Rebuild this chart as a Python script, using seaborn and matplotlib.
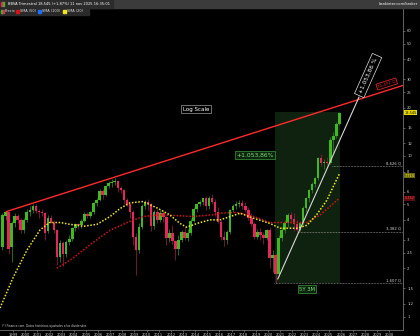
import matplotlib
matplotlib.use("Agg")
import numpy as np
import pandas as pd
import matplotlib.pyplot as plt
import seaborn as sns
from matplotlib.patches import Rectangle
from matplotlib.ticker import NullLocator

# ---------------- data ----------------
quarters = pd.period_range("1998Q1", "2025Q4", freq="Q")

opens = [2.72, 4.20, 4.45, 2.72, 3.80, 4.20, 4.00, 3.45, 4.00, 4.45, 4.60, 4.90,
         4.55, 4.45, 4.40, 3.40, 4.10, 3.85, 3.45, 2.36, 2.86, 2.45, 2.90, 3.05,
         3.55, 3.75, 3.70, 3.95, 4.35, 4.20, 4.45, 5.10, 5.35, 6.05, 5.75, 6.50,
         6.80, 6.90, 6.95, 6.30, 6.10, 5.30, 5.00, 4.50, 3.15, 2.60, 3.60, 4.85,
         5.20, 5.00, 3.65, 4.45, 4.00, 4.40, 4.15, 3.10, 3.30, 2.95, 2.65, 3.00,
         3.35, 3.10, 3.30, 3.95, 4.65, 5.00, 5.20, 5.45, 4.90, 5.50, 5.20, 4.45,
         3.90, 3.15, 3.00, 3.35, 4.60, 4.85, 5.00, 5.10, 4.85, 4.60, 4.10, 3.75,
         3.15, 3.35, 3.20, 3.10, 3.45, 2.30, 2.40, 1.85, 3.10, 3.45, 3.80, 4.30,
         4.05, 3.75, 3.45, 3.80, 4.72, 5.45, 6.10, 6.70, 7.30, 9.70, 9.00, 9.20,
         9.10, 12.60, 13.30, 15.90]
highs = [4.40, 4.50, 4.50, 3.95, 4.40, 4.35, 4.10, 4.10, 4.70, 4.85, 5.00, 5.00,
         4.70, 4.70, 4.50, 4.30, 4.30, 4.00, 3.50, 3.00, 2.95, 3.00, 3.20, 3.60,
         3.85, 3.85, 4.05, 4.45, 4.50, 4.55, 5.20, 5.45, 6.20, 6.20, 6.60, 6.95,
         7.15, 7.25, 7.10, 6.50, 6.20, 5.50, 5.10, 4.60, 3.30, 3.80, 5.00, 5.35,
         5.40, 5.10, 4.60, 4.70, 4.60, 4.60, 4.20, 3.50, 3.70, 3.00, 3.20, 3.45,
         3.60, 3.50, 4.10, 4.80, 5.10, 5.35, 5.50, 5.60, 5.60, 5.80, 5.40, 4.80,
         4.00, 3.40, 3.45, 4.70, 5.00, 5.25, 5.30, 5.30, 5.20, 4.80, 4.40, 3.90,
         3.50, 3.55, 3.35, 3.50, 3.60, 2.60, 2.50, 3.20, 3.60, 4.00, 4.40, 4.45,
         4.40, 4.00, 3.90, 4.85, 5.55, 6.20, 6.90, 7.40, 9.90, 10.30, 9.60, 9.90,
         13.20, 14.00, 16.30, 18.80]
lows = [2.60, 4.00, 2.45, 2.20, 3.60, 3.85, 3.30, 3.30, 3.90, 4.20, 4.40, 4.40,
        4.10, 4.20, 3.00, 3.30, 3.80, 3.30, 2.10, 2.20, 2.05, 2.35, 2.80, 2.95,
        3.40, 3.50, 3.55, 3.90, 4.10, 4.10, 4.35, 4.90, 5.25, 5.40, 5.60, 6.30,
        6.40, 6.60, 6.00, 5.90, 5.00, 4.90, 4.10, 2.80, 1.82, 2.50, 3.50, 4.70,
        4.60, 3.40, 3.50, 3.80, 3.90, 3.90, 2.80, 2.90, 2.85, 2.25, 2.40, 2.90,
        3.00, 2.95, 3.20, 3.90, 4.50, 4.85, 4.95, 4.60, 4.70, 5.00, 4.20, 3.80,
        3.00, 2.75, 2.85, 3.25, 4.50, 4.70, 4.80, 4.70, 4.50, 4.00, 3.65, 3.05,
        3.05, 3.00, 2.85, 3.00, 2.00, 1.90, 1.607, 1.80, 2.95, 3.30, 3.60, 3.80,
        3.40, 3.382, 3.40, 3.70, 4.50, 5.20, 5.90, 6.40, 7.10, 8.70, 8.30, 8.80,
        8.90, 10.50, 13.00, 15.60]
closes = [4.29, 4.45, 2.65, 3.80, 4.20, 4.00, 3.45, 4.00, 4.45, 4.60, 4.90, 4.55,
          4.45, 4.40, 3.30, 4.10, 3.85, 3.45, 2.36, 2.86, 2.45, 2.90, 3.05, 3.55,
          3.75, 3.70, 3.95, 4.35, 4.20, 4.45, 5.10, 5.35, 6.05, 5.75, 6.50, 6.80,
          6.90, 6.95, 6.30, 6.10, 5.30, 5.00, 4.50, 3.15, 2.60, 3.60, 4.85, 5.20,
          5.00, 3.65, 4.45, 4.00, 4.40, 4.15, 3.10, 3.30, 2.95, 2.65, 3.00, 3.35,
          3.10, 3.30, 3.95, 4.65, 5.00, 5.20, 5.45, 4.90, 5.50, 5.20, 4.45, 3.90,
          3.15, 3.00, 3.35, 4.60, 4.85, 5.00, 5.10, 4.85, 4.60, 4.10, 3.75, 3.15,
          3.35, 3.20, 3.10, 3.45, 2.30, 2.40, 1.85, 3.10, 3.45, 3.80, 4.30, 4.05,
          3.75, 3.45, 3.80, 4.72, 5.45, 6.10, 6.70, 7.30, 9.70, 9.00, 9.20, 9.10,
          12.60, 13.30, 15.90, 18.545]

# moving averages (decimal year, value)
sma20_time = [1997.92, 1999.0, 2000.15, 2001.2, 2002.0, 2002.9, 2003.7, 2004.8,
              2005.9, 2007.0, 2007.8, 2008.6, 2009.7, 2010.85, 2011.9, 2012.75,
              2013.3, 2014.15, 2015.2, 2016.05, 2017.7, 2018.8, 2020.15, 2021.0,
              2022.4, 2023.2, 2024.0, 2024.85, 2025.35, 2025.875]
sma20_value = [1.13, 1.75, 2.6, 3.45, 3.85, 3.85, 3.75, 3.65, 3.75, 4.2, 4.7,
               5.1, 5.2, 4.75, 4.3, 3.8, 3.6, 3.8, 4.0, 4.0, 4.4, 4.1, 3.8, 3.55,
               3.55, 3.7, 4.3, 5.3, 6.4, 7.72]
sma50_time = [2002.6, 2003.9, 2005.6, 2007.0, 2008.4, 2009.7, 2011.1, 2012.5,
              2013.8, 2015.5, 2016.05, 2017.45, 2018.8, 2020.15, 2021.55, 2023.2,
              2024.3, 2025.875]
sma50_value = [2.0, 2.3, 2.9, 3.45, 3.85, 4.2, 4.3, 4.25, 4.2, 4.3, 4.4, 4.45,
               4.2, 3.85, 3.85, 3.85, 4.3, 5.45]

year_labels = list(range(1999, 2031))
price_ticks = [1, 1.2, 1.5, 2, 2.5, 3, 4, 5, 6, 8, 10, 12, 15, 20, 25, 30, 40, 50, 60]
price_tick_labels = ["1", "1,2", "1,5", "2", "2,5", "3", "4", "5", "6", "8", "10",
                     "12", "15", "20", "25", "30", "40", "50", "60"]

support_levels = [8.626, 3.382, 1.607]
support_labels = ["8,626 Q", "3,382 Q", "1,607 Q"]
support_start = ["2025Q2", "2022Q3", "2020Q3"]

resist_time = [1998.42, 2031.12]
resist_value = [4.5, 27.5]
trend_time = [2020.80, 2027.50]
trend_value = [1.71, 23.3]

last_price = 18.545
title = "BBVA Trimestral 18,545 (+1,87%) 11 nov 2025 16:35:01"

# ---------------- style ----------------
sns.set_style("dark", {"axes.facecolor": "black", "figure.facecolor": "black"})
plt.rcParams["font.family"] = ["DejaVu Sans"]

W, H = 420, 336
fig = plt.figure(figsize=(W / 100, H / 100), dpi=100, facecolor="black")
ax = fig.add_axes([0, 6 / H, 403 / W, 322 / H])
ax.set_facecolor("black")
ax.set_yscale("log")
ax.set_xlim(1997.92, 2031.12)
ax.set_ylim(0.8247, 83.43)
ax.grid(False)

t = np.asarray(quarters.year + (quarters.quarter - 1) * 0.25 + 0.125, dtype=float)
o = np.array(opens); h = np.array(highs); l = np.array(lows); c = np.array(closes)
up = c >= o

GREEN, RED = "#3fb91f", "#e8265d"
GREEN_W, RED_W = "#2f7a18", "#8a1a3c"

# 5Y 3M box
qs = list(quarters.astype(str))
i0 = qs.index("2020Q3")
ax.add_patch(Rectangle((t[i0] - 0.04, 1.607), t[-1] + 0.04 - (t[i0] - 0.04), 18.8 - 1.607,
                       facecolor="#0f220f", edgecolor="none", zorder=1))

ax.vlines(t, l, h, colors=np.where(up, GREEN_W, RED_W), lw=0.6, zorder=3)
body_bottom = np.minimum(o, c)
body_h = np.maximum(np.abs(c - o), body_bottom * 0.01)
ax.bar(t, body_h, bottom=body_bottom, width=0.21,
       color=np.where(up, GREEN, RED), linewidth=0, zorder=4)

sns.lineplot(x=sma50_time, y=sma50_value, ax=ax, color="#d41414", linewidth=1.1,
             linestyle=(0, (1, 1.1)), estimator=None, sort=False, zorder=5)
sns.lineplot(x=sma20_time, y=sma20_value, ax=ax, color="#f2e81c", linewidth=1.1,
             linestyle=(0, (1, 1.1)), estimator=None, sort=False, zorder=6)

# resistance and trend lines
ax.plot(resist_time, resist_value, color="#ff2a2a", lw=1.0, zorder=7)
ax.plot(trend_time, trend_value, color="#d8d8d8", lw=0.8, zorder=7)

# horizontal support levels
for lev, lab, st in zip(support_levels, support_labels, support_start):
    x0 = t[qs.index(st)] - 0.1
    ax.hlines(lev, x0, 2031.12, colors="#b0b0b0", lw=0.5, linestyles=(0, (1, 1.2)), zorder=6)
    ax.text(2030.95, lev * 1.012, lab, color="#d8d8d8", fontsize=2.7, ha="right", va="bottom", zorder=8)

# labels
ax.text(2014.07, 19.6, "Log Scale", color="white", fontsize=4.0, ha="center", va="center", zorder=8,
        bbox=dict(boxstyle="square,pad=0.35", fc="black", ec="#9a9a9a", lw=0.5))
ax.text(2018.93, 10.14, "+1.053,86%", color="#7de07d", fontsize=4.3, ha="center", va="center", zorder=8,
        bbox=dict(boxstyle="square,pad=0.25", fc="#0d240d", ec="#3a9a3a", lw=0.5))
ax.text(2023.21, 1.484, "5Y 3M", color="#7de07d", fontsize=3.8, ha="center", va="center", zorder=8,
        bbox=dict(boxstyle="square,pad=0.25", fc="#0d240d", ec="#3a9a3a", lw=0.5))
ax.text(2027.6, 24.6, "+1.053,86 %", color="white", fontsize=4.2, ha="left", va="center",
        rotation=66, rotation_mode="anchor", zorder=8,
        bbox=dict(boxstyle="square,pad=0.45", fc="black", ec="#e0e0e0", lw=0.5))
ax.text(2029.78, 28.06, "31,472 Q", color="#ff2a2a", fontsize=3.0, ha="center", va="center",
        rotation=17.6, rotation_mode="anchor", zorder=8,
        bbox=dict(boxstyle="square,pad=0.25", fc="black", ec="#ff2a2a", lw=0.5))

# axes
ax.set_yticks(price_ticks)
ax.set_yticklabels(price_tick_labels)
ax.yaxis.set_minor_locator(NullLocator())
ax.yaxis.tick_right()
ax.set_xticks(year_labels)
ax.set_xticklabels([str(y) for y in year_labels])
ax.xaxis.set_minor_locator(NullLocator())
ax.tick_params(axis="y", which="both", right=True, left=False, length=1.5, width=0.4,
               color="#9a9a9a", labelsize=2.7, labelcolor="#d0d0d0", pad=1.5)
ax.tick_params(axis="x", which="both", bottom=True, length=1.2, width=0.4,
               color="#9a9a9a", labelsize=2.6, labelcolor="#d0d0d0", pad=0.6)
for s in ["top", "left"]:
    ax.spines[s].set_visible(False)
for s in ["right", "bottom"]:
    ax.spines[s].set_color("#8a8a8a")
    ax.spines[s].set_linewidth(0.5)
ax.set_xlabel(""); ax.set_ylabel("")

def tag(y, text, fc, tc, dy=0.0):
    ax.annotate(text, xy=(1.0, y), xycoords=("axes fraction", "data"),
                xytext=(1.0, dy), textcoords="offset points", ha="left", va="center",
                fontsize=2.5, color=tc, zorder=9, annotation_clip=False,
                bbox=dict(boxstyle="square,pad=0.15", fc=fc, ec="none"))

tag(last_price, "18,545", "#e8d800", "black")
tag(sma20_value[-1], "7,715", "#6b6a10", "#f2e81c", dy=-1.2)
tag(sma50_value[-1], "5,452", "#5a0d0d", "#ff4040")

# ---------------- header / footer overlay ----------------
ov = fig.add_axes([0, 0, 1, 1], zorder=10)
ov.set_xlim(0, W); ov.set_ylim(H, 0); ov.axis("off"); ov.patch.set_alpha(0)
ov.add_patch(Rectangle((0, 0), W, 7.5, color="#3b3b3b"))
ov.add_patch(Rectangle((0, 0), 113, 7.5, color="#2c2c2c"))
ov.add_patch(Rectangle((1, 2), 1.5, 3.5, color=RED))
ov.add_patch(Rectangle((2.5, 2), 1.5, 3.5, color=GREEN))
ov.text(8, 3.9, title, color="white", fontsize=2.6, va="center", ha="left")
ov.text(418, 3.9, "bankinter.com/broker", color="white", fontsize=2.6, va="center", ha="right")
ov.add_patch(Rectangle((0, 8), 89, 6.5, color="#2a2a2a"))
legend_items = [("Precio", None, 5), ("SMA (50)", "#d41414", 20), ("SMA (100)", "#1e6cff", 42),
                ("SMA (20)", "#f2e81c", 67)]
for name, col, xx in legend_items:
    if col is None:
        ov.add_patch(Rectangle((xx - 4, 9.5), 1.5, 3.5, color=GREEN))
        ov.add_patch(Rectangle((xx - 2.5, 9.5), 1.5, 3.5, color=RED))
    else:
        ov.add_patch(Rectangle((xx - 4, 9.5), 3, 3.5, color=col))
    ov.text(xx, 11.3, name, color="#dddddd", fontsize=2.5, va="center", ha="left")
ov.text(2, 326.5, "(*) Finance.com. Datos históricos ajustados a los dividendos.",
        color="#cfcfcf", fontsize=2.1, va="center", ha="left")

fig.savefig("out.png", dpi=100, facecolor="black")
